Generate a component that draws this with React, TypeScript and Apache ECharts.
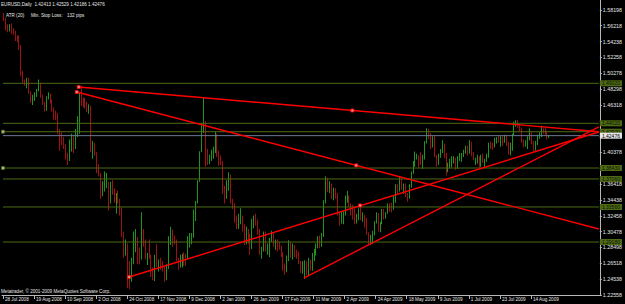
import React, { useEffect, useRef } from "react";
import * as echarts from "echarts";

// ---- x axis: one slot per daily bar, plus empty slots for the chart shift on the right
const SLOTS = 308;
const TICK_STEP = 16;
const tickLabels = [
  "28 Jul 2008", "19 Aug 2008", "10 Sep 2008", "2 Oct 2008", "24 Oct 2008", "17 Nov 2008",
  "9 Dec 2008", "2 Jan 2009", "26 Jan 2009", "17 Feb 2009", "11 Mar 2009", "2 Apr 2009",
  "24 Apr 2009", "18 May 2009", "9 Jun 2009", "1 Jul 2009", "23 Jul 2009", "14 Aug 2009",
];

// ---- y axis
const Y_MIN = 1.22558;
const Y_MAX = 1.59433;
const priceTicks = [
  1.22558, 1.24538, 1.26518, 1.28498, 1.30478, 1.32458, 1.34438, 1.36418, 1.38398, 1.40378,
  1.42358, 1.44338, 1.46318, 1.48298, 1.50278, 1.52258, 1.54238, 1.56218, 1.58198,
];
// labels hidden behind the price boxes in the original are left out
const priceLabels = [
  1.22558, 1.24538, 1.26518, 1.28498, 1.30478, 1.32458, 1.34438, 1.36418, 1.40378,
  1.46318, 1.48298, 1.50278, 1.52258, 1.54238, 1.56218, 1.58198,
];

// ---- EURUSD daily bars
const opens = [
  1.5730, 1.5700, 1.5580, 1.5560, 1.5600, 1.5560, 1.5550, 1.5460, 1.5430, 1.5360,
  1.5010, 1.4920, 1.4900, 1.4920, 1.4790, 1.4680, 1.4730, 1.4770, 1.4810, 1.4900,
  1.4730, 1.4650, 1.4570, 1.4720, 1.4760, 1.4680, 1.4570, 1.4520, 1.4490, 1.4290,
  1.4260, 1.4210, 1.4120, 1.3990, 1.3940, 1.4190, 1.4240, 1.4090, 1.4260, 1.4300,
  1.4750, 1.4640, 1.4630, 1.4620, 1.4580, 1.4610, 1.4080, 1.4090, 1.4030, 1.3800,
  1.3780, 1.3510, 1.3620, 1.3650, 1.3650, 1.3410, 1.3600, 1.3540, 1.3440, 1.3480,
  1.3420, 1.3310, 1.3020, 1.2800, 1.2880, 1.2660, 1.2470, 1.2670, 1.2940, 1.2940,
  1.2730, 1.2720, 1.2960, 1.2930, 1.2720, 1.2750, 1.2740, 1.2500, 1.2490, 1.2720,
  1.2650, 1.2650, 1.2640, 1.2590, 1.2480, 1.2620, 1.2950, 1.3060, 1.2990, 1.2940,
  1.2700, 1.2620, 1.2690, 1.2740, 1.2730, 1.2720, 1.2940, 1.2960, 1.2980, 1.3320,
  1.3410, 1.3680, 1.4050, 1.4390, 1.4400, 1.3940, 1.3920, 1.3960, 1.4000, 1.4040,
  1.4240, 1.4000, 1.3970, 1.3920, 1.3580, 1.3480, 1.3650, 1.3700, 1.3420, 1.3380,
  1.3220, 1.3150, 1.3200, 1.3240, 1.3100, 1.2960, 1.3050, 1.3000, 1.2840, 1.3150,
  1.3190, 1.3170, 1.3070, 1.2800, 1.2830, 1.3020, 1.2840, 1.2860, 1.2950, 1.3000,
  1.2900, 1.2940, 1.2880, 1.2860, 1.2780, 1.2600, 1.2570, 1.2720, 1.2890, 1.2760,
  1.2870, 1.2770, 1.2740, 1.2670, 1.2580, 1.2610, 1.2630, 1.2530, 1.2680, 1.2580,
  1.2760, 1.2780, 1.2850, 1.2930, 1.2880, 1.3020, 1.3420, 1.3660, 1.3580, 1.3620,
  1.3500, 1.3560, 1.3510, 1.3280, 1.3200, 1.3250, 1.3270, 1.3480, 1.3490, 1.3390,
  1.3360, 1.3320, 1.3160, 1.3200, 1.3300, 1.3210, 1.3220, 1.3150, 1.3030, 1.2930,
  1.2960, 1.3040, 1.3160, 1.3270, 1.3060, 1.3150, 1.3270, 1.3230, 1.3280, 1.3370,
  1.3360, 1.3340, 1.3470, 1.3620, 1.3580, 1.3680, 1.3600, 1.3640, 1.3510, 1.3470,
  1.3610, 1.3780, 1.3880, 1.4000, 1.4000, 1.3960, 1.3900, 1.3960, 1.4160, 1.4260,
  1.4240, 1.4140, 1.4200, 1.4000, 1.3890, 1.4010, 1.4040, 1.4140, 1.4020, 1.3830,
  1.3880, 1.3900, 1.3940, 1.3960, 1.3850, 1.3960, 1.4000, 1.4000, 1.4030, 1.4070,
  1.4030, 1.4160, 1.4010, 1.3950, 1.3950, 1.3970, 1.3870, 1.3990, 1.3930, 1.3940,
  1.3980, 1.4150, 1.4130, 1.4110, 1.4200, 1.4200, 1.4180, 1.4220, 1.4180, 1.4230,
  1.4150, 1.4140, 1.4140, 1.4260, 1.4400, 1.4420, 1.4390, 1.4340, 1.4180, 1.4140,
  1.4150, 1.4200, 1.4270, 1.4170, 1.4080, 1.4170, 1.4220, 1.4240, 1.4330, 1.4320,
  1.4300, 1.42413,
];
const highs = [
  1.5780, 1.5720, 1.5640, 1.5640, 1.5650, 1.5590, 1.5560, 1.5500, 1.5500, 1.5380,
  1.5060, 1.4950, 1.4970, 1.4970, 1.4800, 1.4760, 1.4790, 1.4830, 1.4950, 1.4910,
  1.4760, 1.4670, 1.4740, 1.4790, 1.4770, 1.4700, 1.4600, 1.4560, 1.4530, 1.4330,
  1.4290, 1.4230, 1.4140, 1.4030, 1.4200, 1.4270, 1.4250, 1.4330, 1.4490, 1.4790,
  1.4867, 1.4720, 1.4720, 1.4670, 1.4640, 1.4620, 1.4180, 1.4160, 1.4040, 1.3890,
  1.3780, 1.3680, 1.3800, 1.3780, 1.3670, 1.3670, 1.3690, 1.3590, 1.3530, 1.3560,
  1.3460, 1.3350, 1.3050, 1.2950, 1.2900, 1.2680, 1.2720, 1.3050, 1.3080, 1.2980,
  1.2850, 1.3290, 1.3080, 1.2950, 1.2780, 1.2950, 1.2760, 1.2600, 1.2760, 1.2890,
  1.2700, 1.2720, 1.2680, 1.2610, 1.2640, 1.2990, 1.3110, 1.3070, 1.3000, 1.2950,
  1.2720, 1.2760, 1.2770, 1.2790, 1.2770, 1.2990, 1.3030, 1.3030, 1.3320, 1.3430,
  1.3690, 1.4050, 1.4400, 1.4720, 1.4430, 1.4080, 1.4010, 1.4070, 1.4110, 1.4300,
  1.4270, 1.4060, 1.4000, 1.3930, 1.3620, 1.3690, 1.3790, 1.3760, 1.3460, 1.3400,
  1.3250, 1.3270, 1.3340, 1.3250, 1.3140, 1.3110, 1.3080, 1.3020, 1.3210, 1.3250,
  1.3270, 1.3200, 1.3080, 1.2860, 1.3050, 1.3050, 1.2900, 1.2970, 1.3060, 1.3040,
  1.2950, 1.2950, 1.2920, 1.2870, 1.2790, 1.2650, 1.2750, 1.2940, 1.2920, 1.2900,
  1.2880, 1.2820, 1.2800, 1.2680, 1.2680, 1.2690, 1.2680, 1.2720, 1.2700, 1.2780,
  1.2830, 1.2900, 1.2990, 1.3000, 1.3030, 1.3440, 1.3740, 1.3720, 1.3680, 1.3650,
  1.3600, 1.3590, 1.3530, 1.3290, 1.3300, 1.3300, 1.3500, 1.3560, 1.3500, 1.3400,
  1.3380, 1.3340, 1.3270, 1.3340, 1.3380, 1.3290, 1.3260, 1.3220, 1.3040, 1.3010,
  1.3060, 1.3180, 1.3290, 1.3280, 1.3170, 1.3330, 1.3330, 1.3290, 1.3400, 1.3400,
  1.3410, 1.3500, 1.3640, 1.3640, 1.3740, 1.3710, 1.3650, 1.3650, 1.3530, 1.3640,
  1.3800, 1.3930, 1.4050, 1.4020, 1.4000, 1.4040, 1.4010, 1.4180, 1.4340, 1.4330,
  1.4280, 1.4240, 1.4250, 1.4010, 1.4020, 1.4080, 1.4190, 1.4150, 1.4030, 1.3910,
  1.3960, 1.3990, 1.3990, 1.3970, 1.3990, 1.4030, 1.4030, 1.4070, 1.4120, 1.4120,
  1.4190, 1.4170, 1.4040, 1.3970, 1.4010, 1.3990, 1.4010, 1.4020, 1.3960, 1.4020,
  1.4160, 1.4170, 1.4160, 1.4220, 1.4230, 1.4250, 1.4250, 1.4240, 1.4260, 1.4260,
  1.4170, 1.4160, 1.4270, 1.4420, 1.4440, 1.4445, 1.4400, 1.4350, 1.4200, 1.4190,
  1.4240, 1.4340, 1.4290, 1.4180, 1.4180, 1.4260, 1.4290, 1.4370, 1.4340, 1.4340,
  1.4310, 1.42529,
];
const lows = [
  1.5680, 1.5560, 1.5540, 1.5550, 1.5520, 1.5510, 1.5430, 1.5420, 1.5320, 1.4990,
  1.4900, 1.4870, 1.4840, 1.4770, 1.4660, 1.4630, 1.4680, 1.4730, 1.4800, 1.4720,
  1.4630, 1.4550, 1.4560, 1.4700, 1.4650, 1.4550, 1.4450, 1.4440, 1.4270, 1.4060,
  1.4130, 1.4080, 1.3950, 1.3880, 1.3930, 1.4050, 1.4030, 1.4080, 1.4230, 1.4270,
  1.4620, 1.4600, 1.4590, 1.4540, 1.4520, 1.4040, 1.3960, 1.4000, 1.3780, 1.3740,
  1.3460, 1.3490, 1.3550, 1.3590, 1.3310, 1.3400, 1.3510, 1.3410, 1.3270, 1.3400,
  1.3250, 1.2980, 1.2720, 1.2750, 1.2340, 1.2330, 1.2420, 1.2640, 1.2790, 1.2640,
  1.2640, 1.2700, 1.2860, 1.2700, 1.2630, 1.2710, 1.2480, 1.2440, 1.2430, 1.2610,
  1.2550, 1.2570, 1.2550, 1.2420, 1.2440, 1.2580, 1.2880, 1.2860, 1.2890, 1.2680,
  1.2570, 1.2600, 1.2600, 1.2620, 1.2620, 1.2710, 1.2850, 1.2890, 1.2970, 1.3180,
  1.3400, 1.3670, 1.4040, 1.4280, 1.3860, 1.3880, 1.3890, 1.3930, 1.3960, 1.4030,
  1.3980, 1.3870, 1.3880, 1.3520, 1.3400, 1.3460, 1.3560, 1.3400, 1.3330, 1.3160,
  1.3080, 1.3080, 1.3140, 1.3050, 1.2880, 1.2890, 1.2900, 1.2760, 1.2830, 1.3090,
  1.3120, 1.3010, 1.2760, 1.2710, 1.2800, 1.2800, 1.2760, 1.2730, 1.2920, 1.2860,
  1.2820, 1.2800, 1.2820, 1.2730, 1.2560, 1.2510, 1.2540, 1.2680, 1.2720, 1.2700,
  1.2730, 1.2710, 1.2640, 1.2530, 1.2520, 1.2455, 1.2500, 1.2500, 1.2560, 1.2560,
  1.2680, 1.2750, 1.2840, 1.2840, 1.2860, 1.2980, 1.3400, 1.3540, 1.3530, 1.3460,
  1.3440, 1.3460, 1.3250, 1.3120, 1.3150, 1.3140, 1.3250, 1.3410, 1.3360, 1.3250,
  1.3200, 1.3140, 1.3150, 1.3190, 1.3190, 1.3170, 1.3100, 1.3010, 1.2890, 1.2890,
  1.2900, 1.3000, 1.3150, 1.3050, 1.3040, 1.3140, 1.3200, 1.3210, 1.3270, 1.3300,
  1.3290, 1.3320, 1.3410, 1.3520, 1.3550, 1.3570, 1.3520, 1.3480, 1.3420, 1.3460,
  1.3600, 1.3770, 1.3860, 1.3950, 1.3850, 1.3880, 1.3830, 1.3950, 1.4150, 1.4200,
  1.4080, 1.4100, 1.3980, 1.3860, 1.3880, 1.3970, 1.4030, 1.3970, 1.3750, 1.3790,
  1.3840, 1.3850, 1.3900, 1.3820, 1.3830, 1.3930, 1.3920, 1.3980, 1.4020, 1.4000,
  1.4020, 1.3990, 1.3940, 1.3880, 1.3900, 1.3850, 1.3860, 1.3910, 1.3840, 1.3920,
  1.3970, 1.4080, 1.4070, 1.4100, 1.4150, 1.4160, 1.4110, 1.4120, 1.4160, 1.4120,
  1.4010, 1.4000, 1.4060, 1.4250, 1.4360, 1.4350, 1.4300, 1.4160, 1.4100, 1.4110,
  1.4080, 1.4190, 1.4140, 1.4050, 1.4060, 1.4130, 1.4210, 1.4230, 1.4270, 1.4260,
  1.4200, 1.42186,
];
const closes = [
  1.5700, 1.5580, 1.5560, 1.5600, 1.5560, 1.5550, 1.5460, 1.5430, 1.5360, 1.5010,
  1.4920, 1.4900, 1.4920, 1.4790, 1.4680, 1.4730, 1.4770, 1.4810, 1.4900, 1.4730,
  1.4650, 1.4570, 1.4720, 1.4760, 1.4680, 1.4570, 1.4520, 1.4490, 1.4290, 1.4260,
  1.4210, 1.4120, 1.3990, 1.3940, 1.4190, 1.4240, 1.4090, 1.4260, 1.4300, 1.4750,
  1.4640, 1.4630, 1.4620, 1.4580, 1.4610, 1.4080, 1.4090, 1.4030, 1.3800, 1.3780,
  1.3510, 1.3620, 1.3650, 1.3650, 1.3410, 1.3600, 1.3540, 1.3440, 1.3480, 1.3420,
  1.3310, 1.3020, 1.2800, 1.2880, 1.2660, 1.2470, 1.2670, 1.2940, 1.2940, 1.2730,
  1.2720, 1.2960, 1.2930, 1.2720, 1.2750, 1.2740, 1.2500, 1.2490, 1.2720, 1.2650,
  1.2650, 1.2640, 1.2590, 1.2480, 1.2620, 1.2950, 1.3060, 1.2990, 1.2940, 1.2700,
  1.2620, 1.2690, 1.2740, 1.2730, 1.2720, 1.2940, 1.2960, 1.2980, 1.3320, 1.3410,
  1.3680, 1.4050, 1.4390, 1.4400, 1.3940, 1.3920, 1.3960, 1.4000, 1.4040, 1.4240,
  1.4000, 1.3970, 1.3920, 1.3580, 1.3480, 1.3650, 1.3700, 1.3420, 1.3380, 1.3220,
  1.3150, 1.3200, 1.3240, 1.3100, 1.2960, 1.3050, 1.3000, 1.2840, 1.3150, 1.3190,
  1.3170, 1.3070, 1.2800, 1.2830, 1.3020, 1.2840, 1.2860, 1.2950, 1.3000, 1.2900,
  1.2940, 1.2880, 1.2860, 1.2780, 1.2600, 1.2570, 1.2720, 1.2890, 1.2760, 1.2870,
  1.2770, 1.2740, 1.2670, 1.2580, 1.2610, 1.2630, 1.2530, 1.2680, 1.2580, 1.2760,
  1.2780, 1.2850, 1.2930, 1.2880, 1.3020, 1.3420, 1.3660, 1.3580, 1.3620, 1.3500,
  1.3560, 1.3510, 1.3280, 1.3200, 1.3250, 1.3270, 1.3480, 1.3490, 1.3390, 1.3360,
  1.3320, 1.3160, 1.3200, 1.3300, 1.3210, 1.3220, 1.3150, 1.3030, 1.2930, 1.2960,
  1.3040, 1.3160, 1.3270, 1.3060, 1.3150, 1.3270, 1.3230, 1.3280, 1.3370, 1.3360,
  1.3340, 1.3470, 1.3620, 1.3580, 1.3680, 1.3600, 1.3640, 1.3510, 1.3470, 1.3610,
  1.3780, 1.3880, 1.4000, 1.4000, 1.3960, 1.3900, 1.3960, 1.4160, 1.4260, 1.4240,
  1.4140, 1.4200, 1.4000, 1.3890, 1.4010, 1.4040, 1.4140, 1.4020, 1.3830, 1.3880,
  1.3900, 1.3940, 1.3960, 1.3850, 1.3960, 1.4000, 1.4000, 1.4030, 1.4070, 1.4030,
  1.4160, 1.4010, 1.3950, 1.3950, 1.3970, 1.3870, 1.3990, 1.3930, 1.3940, 1.3980,
  1.4150, 1.4130, 1.4110, 1.4200, 1.4200, 1.4180, 1.4220, 1.4180, 1.4230, 1.4150,
  1.4140, 1.4140, 1.4260, 1.4400, 1.4420, 1.4390, 1.4340, 1.4180, 1.4140, 1.4150,
  1.4200, 1.4270, 1.4170, 1.4080, 1.4170, 1.4220, 1.4240, 1.4330, 1.4320, 1.4300,
  1.4240, 1.42476,
];

// ---- horizontal levels, bid line
const levels = [1.4902, 1.4402, 1.4297, 1.3843, 1.3706, 1.3356, 1.2918];
const bidPrice = 1.42476;

// ---- trend lines: [startBar, startPrice], [endBar, endPrice]
const trendLines = [
  [[39, 1.4856], [307, 1.4297]],
  [[38, 1.4793], [307, 1.3081]],
  [[65, 1.2481], [307, 1.4293]],
  [[155, 1.2468], [307, 1.4356]],
];
const trendAnchors = [
  [39, 1.4856], [180, 1.4562], [38, 1.4793], [182, 1.3876], [65, 1.2481], [184, 1.3375],
];
const levelAnchors = [[0, 1.4297], [0, 1.3843]];

const BULL = "#1e961e";
const BEAR = "#a01010";
const OLIVE = "#4e6a14";
const BIDLINE = "#6a7a96";
const AXIS = "#b8b8b8";
const TEXT = "#e6e6e6";
const FONT = "Liberation Sans, Arial, sans-serif";

export default function App() {
  const ref = useRef<HTMLDivElement>(null);
  useEffect(() => {
    if (!ref.current) return;
    const chart = echarts.init(ref.current, null, { renderer: "svg" });
    const categories = Array.from({ length: SLOTS }, (_, i) => String(i));
    const bars = opens.map((o, i) => [i, o, closes[i], lows[i], highs[i]]);
    const labelInterval = (i: number) => i % TICK_STEP === 0 && i / TICK_STEP < tickLabels.length;

    const boxLabel = (text: string, bg: string, fg: string) => ({
      show: true,
      position: "end",
      distance: 1,
      formatter: () => text,
      backgroundColor: bg,
      color: fg,
      fontSize: 5,
      fontFamily: FONT,
      padding: [1, 2, 0, 2],
    });

    const levelSeries = levels.map((v) => ({
      type: "line",
      data: [[0, v], [SLOTS - 1, v]],
      symbol: "none",
      silent: true,
      color: OLIVE,
      lineStyle: { color: OLIVE, width: 1, opacity: 1 },
      endLabel: boxLabel(v.toFixed(5), OLIVE, "#0c1004"),
      z: 3,
    }));
    const bidSeries = {
      type: "line",
      data: [[0, bidPrice], [SLOTS - 1, bidPrice]],
      symbol: "none",
      silent: true,
      color: BIDLINE,
      lineStyle: { color: BIDLINE, width: 1, opacity: 1 },
      endLabel: boxLabel(bidPrice.toFixed(5), "#e8e8e8", "#000000"),
      z: 3,
    };

    const option: any = {
      animation: false,
      darkMode: false,
      backgroundColor: "transparent",
      textStyle: { fontFamily: FONT },
      grid: { left: 2, right: 19, top: 0, bottom: 9, containLabel: false },
      xAxis: {
        type: "category",
        data: categories,
        boundaryGap: true,
        axisLine: { show: true, onZero: false, lineStyle: { color: AXIS, width: 1 } },
        axisTick: {
          show: true,
          interval: labelInterval,
          alignWithLabel: true,
          length: 4,
          lineStyle: { color: AXIS },
        },
        axisLabel: {
          show: true,
          interval: labelInterval,
          formatter: (_v: string, i: number) => tickLabels[i / TICK_STEP] ?? "",
          align: "left",
          color: TEXT,
          fontSize: 4.6,
          fontFamily: FONT,
          margin: 2,
          padding: [0, 0, 0, 2],
        },
        splitLine: { show: false },
      },
      yAxis: {
        type: "value",
        position: "right",
        min: Y_MIN,
        max: Y_MAX,
        axisLine: { show: true, lineStyle: { color: AXIS, width: 1 } },
        axisTick: { show: true, length: 2, customValues: priceTicks, lineStyle: { color: AXIS } },
        axisLabel: {
          show: true,
          customValues: priceLabels,
          formatter: (v: number) => v.toFixed(5),
          color: TEXT,
          fontSize: 5.3,
          fontFamily: FONT,
          margin: 3,
        },
        splitLine: { show: false },
      },
      graphic: [
        {
          type: "text",
          left: 1,
          top: 2,
          style: { text: "EURUSD,Daily  1.42413 1.42529 1.42186 1.42476", fill: TEXT, fontSize: 4.6, fontFamily: FONT },
        },
        { type: "text", left: 6, top: 13, style: { text: "ATR (20)", fill: TEXT, fontSize: 4.6, fontFamily: FONT } },
        { type: "text", left: 31, top: 13, style: { text: "Min. Stop Loss:", fill: TEXT, fontSize: 4.6, fontFamily: FONT } },
        { type: "text", left: 67, top: 13, style: { text: "132 pips", fill: TEXT, fontSize: 4.6, fontFamily: FONT } },
        {
          type: "text",
          left: 1,
          top: 289,
          style: { text: "Metatrader, © 2001-2009 MetaQuotes Software Corp.", fill: TEXT, fontSize: 4.6, fontFamily: FONT },
        },
      ],
      series: [
        {
          type: "custom",
          data: bars,
          encode: { x: 0, y: [1, 2, 3, 4] },
          silent: true,
          z: 2,
          renderItem: (_params: any, api: any) => {
            const i = api.value(0);
            const o = api.value(1);
            const c = api.value(2);
            const lo = api.coord([i, api.value(3)]);
            const hi = api.coord([i, api.value(4)]);
            const po = api.coord([i, o]);
            const pc = api.coord([i, c]);
            const color = c >= o ? BULL : BEAR;
            const x = Math.round(lo[0]);
            const top = Math.min(po[1], pc[1]);
            const h = Math.max(1, Math.abs(po[1] - pc[1]));
            return {
              type: "group",
              children: [
                {
                  type: "rect",
                  shape: { x, y: hi[1], width: 1, height: Math.max(1, lo[1] - hi[1]) },
                  style: { fill: color },
                },
                { type: "rect", shape: { x, y: top, width: 1, height: h }, style: { fill: color } },
              ],
            };
          },
        },
        ...levelSeries,
        bidSeries,
        ...trendLines.map((seg) => ({
          type: "line",
          data: seg,
          symbol: "none",
          silent: true,
          lineStyle: { color: "#ff0000", width: 1.4 },
          z: 4,
        })),
        {
          type: "scatter",
          data: trendAnchors,
          symbol: "rect",
          symbolSize: 3,
          silent: true,
          itemStyle: { color: "#ffb0b0", borderColor: "#ff0000", borderWidth: 1 },
          z: 5,
        },
        {
          type: "scatter",
          data: levelAnchors,
          symbol: "rect",
          symbolSize: 3,
          silent: true,
          itemStyle: { color: "#d8e0b8", borderColor: OLIVE, borderWidth: 1 },
          z: 5,
        },
      ],
    };
    chart.setOption(option);
    return () => chart.dispose();
  }, []);
  return (
    <div
      ref={ref}
      style={{ position: "fixed", left: 0, top: 0, width: 625, height: 304, background: "#000" }}
    />
  );
}
